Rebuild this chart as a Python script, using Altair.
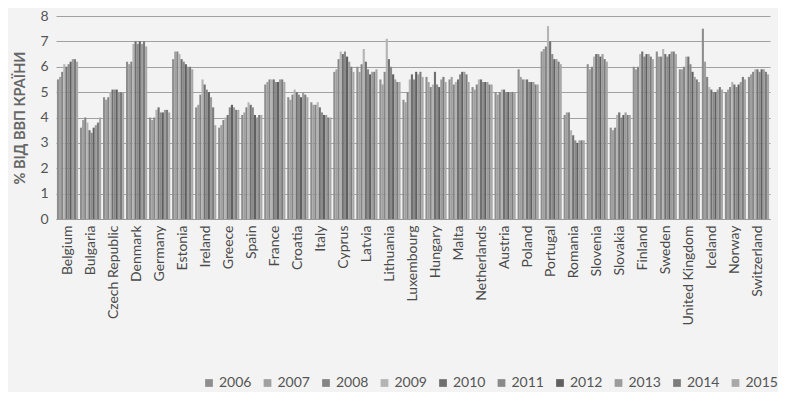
import altair as alt
import pandas as pd

countries = ["Belgium", "Bulgaria", "Czech Republic", "Denmark", "Germany", "Estonia",
             "Ireland", "Greece", "Spain", "France", "Croatia", "Italy", "Cyprus", "Latvia",
             "Lithuania", "Luxembourg", "Hungary", "Malta", "Netherlands", "Austria", "Poland",
             "Portugal", "Romania", "Slovenia", "Slovakia", "Finland", "Sweden",
             "United Kingdom", "Iceland", "Norway", "Switzerland"]

years = ["2006", "2007", "2008", "2009", "2010", "2011", "2012", "2013", "2014", "2015"]

v_belgium = [5.5, 5.6, 5.8, 6.1, 6.0, 6.1, 6.2, 6.3, 6.3, 6.2]
v_bulgaria = [3.6, 3.9, 4.0, 3.8, 3.5, 3.4, 3.6, 3.7, 3.8, 4.0]
v_czech = [4.8, 4.7, 4.8, 5.0, 5.1, 5.1, 5.1, 5.0, 5.0, 5.0]
v_denmark = [6.2, 6.1, 6.2, 6.9, 7.0, 6.9, 7.0, 6.9, 7.0, 6.8]
v_germany = [4.0, 3.9, 4.0, 4.3, 4.4, 4.2, 4.2, 4.3, 4.3, 4.2]
v_estonia = [6.3, 6.6, 6.6, 6.5, 6.3, 6.2, 6.1, 6.0, 6.0, 5.9]
v_ireland = [4.4, 4.5, 4.9, 5.5, 5.3, 5.1, 5.0, 4.8, 4.4, 3.7]
v_greece = [3.6, 3.7, 3.9, 4.0, 4.1, 4.4, 4.5, 4.4, 4.3, 4.3]
v_spain = [4.1, 4.2, 4.4, 4.6, 4.5, 4.4, 4.1, 4.0, 4.1, 4.1]
v_france = [5.3, 5.4, 5.5, 5.5, 5.5, 5.4, 5.4, 5.5, 5.5, 5.4]
v_croatia = [4.8, 4.7, 4.9, 5.1, 5.0, 4.9, 4.8, 5.0, 4.9, 4.8]
v_italy = [4.6, 4.5, 4.5, 4.6, 4.4, 4.2, 4.1, 4.1, 4.0, 4.0]
v_cyprus = [5.8, 5.9, 6.3, 6.6, 6.5, 6.6, 6.4, 6.2, 6.0, 5.8]
v_latvia = [6.0, 5.8, 6.1, 6.7, 6.2, 5.9, 5.7, 5.8, 5.8, 5.9]
v_lithuania = [5.5, 5.3, 5.8, 7.1, 6.3, 6.0, 5.7, 5.5, 5.4, 5.4]
v_luxembourg = [4.7, 4.6, 5.0, 5.5, 5.7, 5.5, 5.8, 5.7, 5.8, 5.6]
v_hungary = [5.6, 5.4, 5.2, 5.3, 5.8, 5.3, 5.2, 5.5, 5.6, 5.4]
v_malta = [5.5, 5.6, 5.3, 5.4, 5.5, 5.7, 5.8, 5.8, 5.7, 5.4]
v_netherlands = [5.2, 5.1, 5.3, 5.5, 5.5, 5.4, 5.4, 5.4, 5.3, 5.3]
v_austria = [5.0, 4.9, 5.0, 5.1, 5.1, 5.0, 5.0, 5.0, 5.0, 5.0]
v_poland = [5.9, 5.6, 5.5, 5.5, 5.5, 5.4, 5.4, 5.4, 5.3, 5.3]
v_portugal = [6.6, 6.7, 6.8, 7.6, 7.0, 6.5, 6.3, 6.3, 6.2, 6.1]
v_romania = [4.1, 4.2, 4.2, 3.5, 3.3, 3.1, 3.0, 3.1, 3.1, 3.1]
v_slovenia = [6.1, 5.9, 6.0, 6.4, 6.5, 6.5, 6.4, 6.5, 6.3, 6.2]
v_slovakia = [3.6, 3.5, 3.6, 4.1, 4.2, 4.0, 4.1, 4.2, 4.1, 4.1]
v_finland = [6.0, 5.9, 6.0, 6.5, 6.6, 6.4, 6.5, 6.5, 6.4, 6.3]
v_sweden = [6.6, 6.4, 6.4, 6.7, 6.5, 6.4, 6.5, 6.6, 6.6, 6.5]
v_uk = [5.9, 5.9, 6.0, 6.4, 6.4, 6.1, 5.8, 5.6, 5.5, 5.4]
v_iceland = [7.5, 6.2, 5.6, 5.2, 5.1, 5.0, 5.0, 5.1, 5.2, 5.1]
v_norway = [5.0, 5.1, 5.2, 5.4, 5.3, 5.2, 5.3, 5.4, 5.6, 5.5]
v_switzerland = [5.6, 5.7, 5.8, 5.9, 5.9, 5.8, 5.9, 5.9, 5.8, 5.7]

series = [v_belgium, v_bulgaria, v_czech, v_denmark, v_germany, v_estonia, v_ireland,
          v_greece, v_spain, v_france, v_croatia, v_italy, v_cyprus, v_latvia, v_lithuania,
          v_luxembourg, v_hungary, v_malta, v_netherlands, v_austria, v_poland, v_portugal,
          v_romania, v_slovenia, v_slovakia, v_finland, v_sweden, v_uk, v_iceland,
          v_norway, v_switzerland]

rows = []
for c, vals in zip(countries, series):
    for y, v in zip(years, vals):
        rows.append({"country": c, "year": y, "value": v})
df = pd.DataFrame(rows)

grays = ["#8e8e8e", "#a0a0a0", "#858585", "#b4b4b4", "#707070",
         "#8a8a8a", "#606060", "#9c9c9c", "#7c7c7c", "#a8a8a8"]

FONT = "Lato"

chart = alt.Chart(df).mark_bar().encode(
    x=alt.X("country:N", sort=countries,
            scale=alt.Scale(paddingInner=0.08, paddingOuter=0.04),
            axis=alt.Axis(title=None, labelAngle=-90, ticks=False, labelPadding=6,
                          labelFontSize=14, labelColor="#4a4a4a", labelFont=FONT,
                          domainColor="#9a9a9a", grid=False)),
    xOffset=alt.XOffset("year:N", sort=years),
    y=alt.Y("value:Q", scale=alt.Scale(domain=[0, 8], nice=False),
            axis=alt.Axis(title="% ВІД ВВП КРАЇНИ", values=list(range(0, 9)), ticks=False,
                          domain=False, labelFontSize=14, labelColor="#555555",
                          labelFont=FONT, labelPadding=8, titleFont=FONT,
                          titleFontSize=14.5, titleFontWeight="bold", titleColor="#666666",
                          titlePadding=12, gridColor="#a0a0a0", gridWidth=1)),
    color=alt.Color("year:N", sort=years, scale=alt.Scale(domain=years, range=grays),
                    legend=alt.Legend(title=None, orient="none", direction="horizontal",
                                      legendX=146, legendY=360,
                                      symbolType="square", symbolSize=60, labelFontSize=14,
                                      labelFont=FONT, labelColor="#555555", columnPadding=8.5,
                                      labelOffset=3)),
).properties(
    width=714,
    height=203,
    background="#f3f3f3",
    padding={"left": 4, "top": 1, "right": 0, "bottom": 2},
).configure_view(stroke=None)

chart.save("out.html", embed_options={"renderer": "svg", "actions": False})
